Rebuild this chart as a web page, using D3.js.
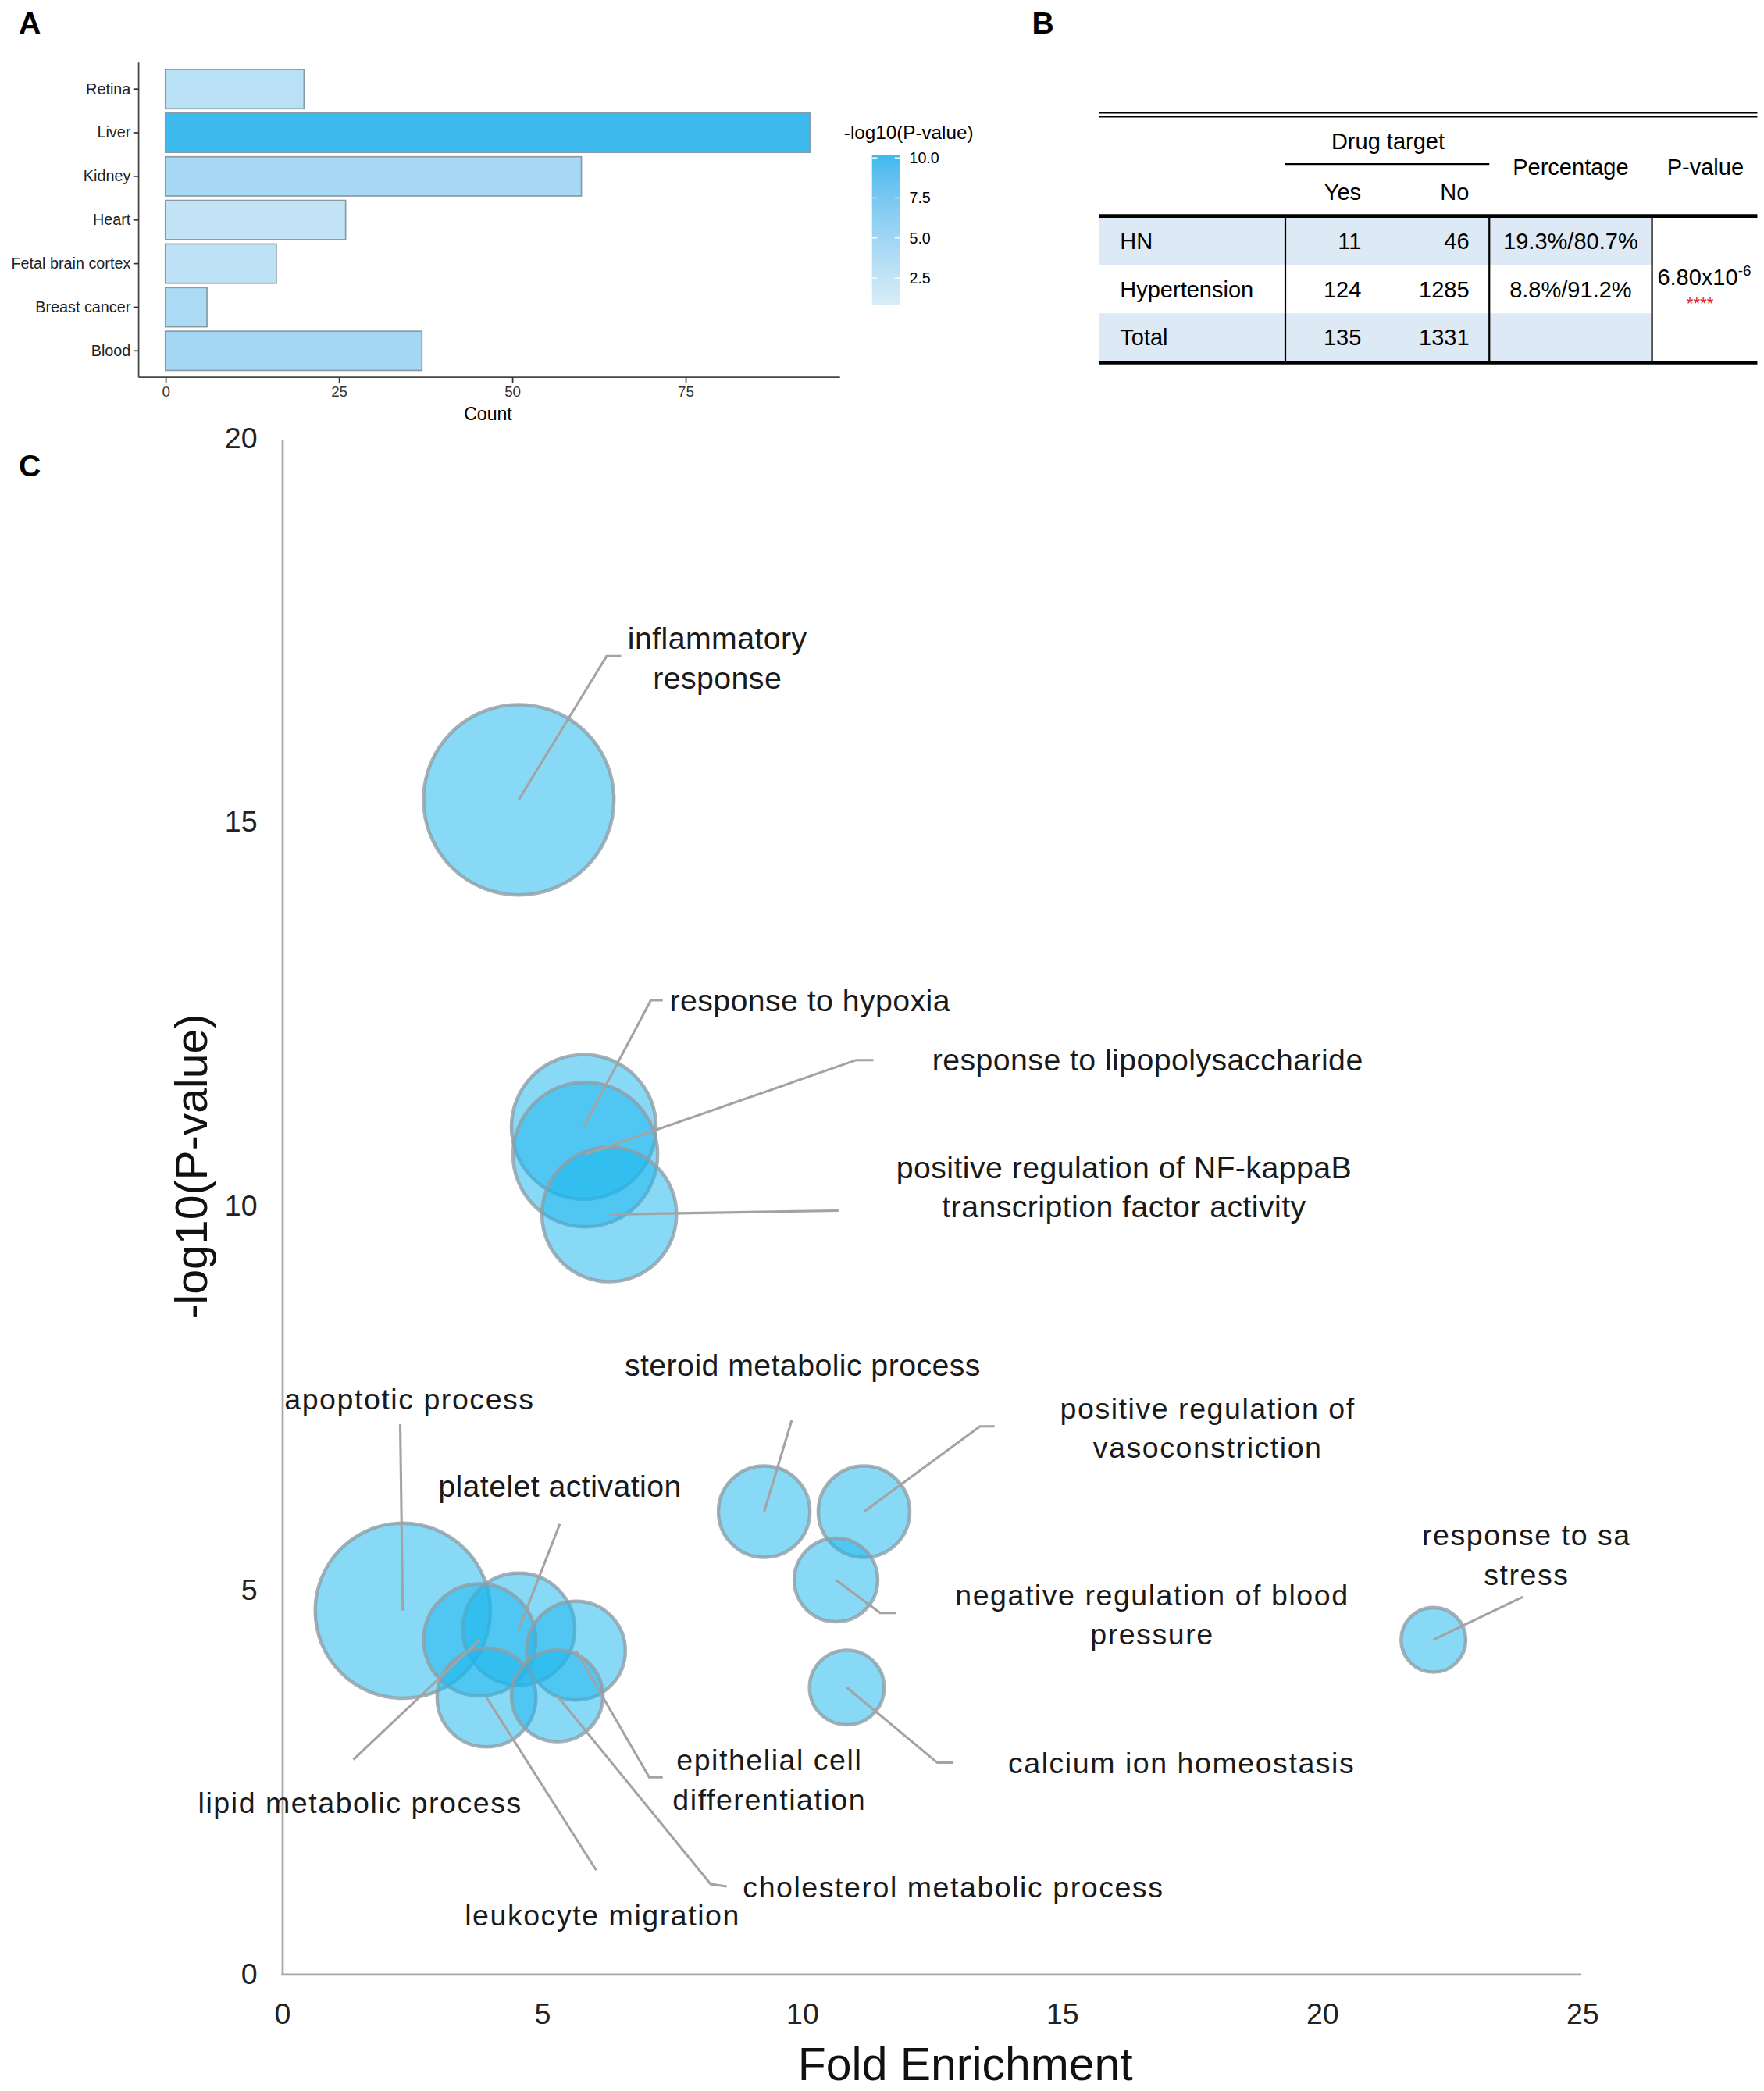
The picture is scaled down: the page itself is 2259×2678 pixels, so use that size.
<!DOCTYPE html>
<html>
<head>
<meta charset="utf-8">
<script src="https://cdn.jsdelivr.net/npm/d3@7"></script>
<style>
  body { margin: 0; background: #fff; }
  svg { display: block; font-family: "Liberation Sans", Arial, sans-serif; }
</style>
</head>
<body>
<svg id="fig" width="2259" height="2678" viewBox="0 0 1323 1568.4"></svg>
<script>
// ---- panel A data
const tissues = ['Retina', 'Liver', 'Kidney', 'Heart', 'Fetal brain cortex', 'Breast cancer', 'Blood'];
const tissueCounts = [20, 93, 60, 26, 16, 6, 37];
const tissueLogP = [3.1, 10.2, 4.4, 2.6, 2.9, 4.3, 4.8];
const countTicks = [0, 25, 50, 75];
const legendTicks = [10, 7.5, 5, 2.5];

// ---- panel B data
const groups = ['HN', 'Hypertension', 'Total'];
const yesCounts = [11, 124, 135];
const noCounts = [46, 1285, 1331];
const percentages = ['19.3%/80.7%', '8.8%/91.2%', ''];

// ---- panel C data
const terms = ['inflammatory response', 'response to hypoxia', 'response to lipopolysaccharide',
  'positive regulation of NF-kappaB transcription factor activity', 'steroid metabolic process',
  'positive regulation of vasoconstriction', 'negative regulation of blood pressure',
  'calcium ion homeostasis', 'response to salt stress', 'apoptotic process', 'platelet activation',
  'lipid metabolic process', 'epithelial cell differentiation', 'leukocyte migration',
  'cholesterol metabolic process'];
const labelLines = [['inflammatory', 'response'], ['response to hypoxia'], ['response to lipopolysaccharide'],
  ['positive regulation of NF-kappaB', 'transcription factor activity'], ['steroid metabolic process'],
  ['positive regulation of', 'vasoconstriction'], ['negative regulation of blood', 'pressure'],
  ['calcium ion homeostasis'], ['response to sa', 'stress'], ['apoptotic process'], ['platelet activation'],
  ['lipid metabolic process'], ['epithelial cell', 'differentiation'], ['leukocyte migration'],
  ['cholesterol metabolic process']];
const foldEnrichment = [4.54, 5.79, 5.82, 6.28, 9.26, 11.18, 10.64, 10.85, 22.13, 2.31, 4.54, 3.79, 5.64, 3.92, 5.28];
const negLog10P = [15.28, 11.02, 10.66, 9.88, 6.01, 6.01, 5.12, 3.72, 4.34, 4.72, 4.48, 4.34, 4.20, 3.59, 3.61];
const geneCounts = [26, 15, 15, 13, 6, 6, 5, 4, 3, 22, 9, 9, 7, 7, 6];
const feTicks = [0, 5, 10, 15, 20, 25];
const pTicks = [0, 5, 10, 15, 20];

// label placement (in data units), kept apart from the values
const labelLayout = [
  { lx: 8.36, ly: 17.38, anchor: 'middle', elbow: [6.23, 17.15], end: [6.51, 17.15] },
  { lx: 7.44, ly: 12.67, anchor: 'start', elbow: [7.08, 12.67], end: [7.31, 12.67] },
  { lx: 12.49, ly: 11.89, anchor: 'start', elbow: [11.03, 11.89], end: [11.36, 11.89] },
  { lx: 16.18, ly: 10.49, anchor: 'middle', elbow: null, end: [10.69, 9.93] },
  { lx: 10.0, ly: 7.92, anchor: 'middle', elbow: null, end: [9.79, 7.2] },
  { lx: 17.79, ly: 7.36, anchor: 'middle', elbow: [13.41, 7.12], end: [13.69, 7.12], spaced: true },
  { lx: 16.72, ly: 4.93, anchor: 'middle', elbow: [11.49, 4.69], end: [11.79, 4.69], spaced: true },
  { lx: 13.95, ly: 2.74, anchor: 'start', elbow: [12.59, 2.74], end: [12.9, 2.74], spaced: true },
  { lx: 23.92, ly: 5.71, anchor: 'middle', elbow: null, end: [23.85, 4.9], spaced: true },
  { lx: 2.44, ly: 7.48, anchor: 'middle', elbow: null, end: [2.26, 7.15], spaced: true },
  { lx: 5.33, ly: 6.34, anchor: 'middle', elbow: null, end: [5.33, 5.85] },
  { lx: 1.49, ly: 2.22, anchor: 'middle', elbow: null, end: [1.36, 2.78], spaced: true },
  { lx: 9.36, ly: 2.78, anchor: 'middle', elbow: [7.05, 2.55], end: [7.31, 2.55], spaced: true },
  { lx: 6.15, ly: 0.76, anchor: 'middle', elbow: null, end: [6.03, 1.34], spaced: true },
  { lx: 8.85, ly: 1.13, anchor: 'start', elbow: [8.23, 1.16], end: [8.54, 1.13], spaced: true }
];

const svg = d3.select('#fig');

// panel letters
svg.selectAll('text.panel')
  .data([['A', 14, 25], ['B', 774, 25], ['C', 14, 357]])
  .enter().append('text')
  .attr('class', 'panel')
  .attr('x', d => d[1]).attr('y', d => d[2])
  .attr('font-size', 23).attr('font-weight', 'bold')
  .text(d => d[0]);

// ================= panel A =================
let drawBars = () => {
  let g = svg.append('g');
  let x = d3.scaleLinear().domain([-3.85, 97.3]).range([104, 630]);
  let y = d3.scaleBand().domain(tissues).range([50.5, 279.5]).paddingInner(0.1).paddingOuter(0.05);
  let color = d3.scaleLinear().domain([0.8, 10.2]).range(['#d9edf7', '#3db9ee']).interpolate(d3.interpolateLab);

  g.selectAll('rect.bar')
    .data(tissues)
    .enter().append('rect')
    .attr('class', 'bar')
    .attr('x', x(0))
    .attr('y', d => y(d))
    .attr('width', (d, i) => x(tissueCounts[i]) - x(0))
    .attr('height', y.bandwidth())
    .attr('fill', (d, i) => color(tissueLogP[i]))
    .attr('stroke', '#8a9aa4').attr('stroke-width', 1);

  let yAxis = g.append('g').attr('transform', 'translate(104,0)')
    .call(d3.axisLeft(y).tickSize(4).tickPadding(2));
  yAxis.select('.domain').attr('d', 'M0,47V283').attr('stroke', '#444');
  yAxis.selectAll('text').attr('font-size', 11.6).attr('fill', '#222').attr('font-family', 'Liberation Sans, Arial');
  yAxis.selectAll('line').attr('stroke', '#333');

  let xAxis = g.append('g').attr('transform', 'translate(0,283)')
    .call(d3.axisBottom(x).tickValues(countTicks).tickSize(4).tickPadding(3));
  xAxis.select('.domain').attr('d', 'M104,0H630').attr('stroke', '#444');
  xAxis.selectAll('text').attr('font-size', 11).attr('fill', '#333').attr('font-family', 'Liberation Sans, Arial');
  xAxis.selectAll('line').attr('stroke', '#333');

  g.append('text').attr('x', 366).attr('y', 315).attr('text-anchor', 'middle')
    .attr('font-size', 13.5).text('Count');

  // colour legend
  let defs = svg.append('defs');
  let grad = defs.append('linearGradient').attr('id', 'lg').attr('x1', 0).attr('x2', 0).attr('y1', 0).attr('y2', 1);
  d3.range(0, 1.01, 0.1).forEach(t => {
    grad.append('stop').attr('offset', t).attr('stop-color', color(10.2 - t * 9.4));
  });
  let ly = d3.scaleLinear().domain([10.2, 0.8]).range([116, 229]);
  g.append('text').attr('x', 633).attr('y', 104).attr('font-size', 14.2).text('-log10(P-value)');
  g.append('rect').attr('x', 654).attr('y', ly(10.2)).attr('width', 21).attr('height', ly(0.8) - ly(10.2))
    .attr('fill', 'url(#lg)');
  legendTicks.forEach(v => {
    g.append('line').attr('x1', 654).attr('x2', 658).attr('y1', ly(v)).attr('y2', ly(v)).attr('stroke', '#fff').attr('stroke-width', 0.8);
    g.append('line').attr('x1', 671).attr('x2', 675).attr('y1', ly(v)).attr('y2', ly(v)).attr('stroke', '#fff').attr('stroke-width', 0.8);
    g.append('text').attr('x', 682).attr('y', ly(v) + 4).attr('font-size', 11.5).text(v.toFixed(1));
  });
};

// ================= panel B =================
let drawTable = () => {
  let g = svg.append('g').attr('font-size', 17);
  let left = 824, right = 1318;
  let row = d3.scaleBand().domain(groups).range([163, 271]);
  let shade = '#dde9f5';

  groups.forEach((grp, i) => {
    if (i % 2 === 0) {
      g.append('rect').attr('x', left).attr('y', row(grp)).attr('width', 1239 - left).attr('height', row.bandwidth())
        .attr('fill', shade);
    }
  });

  g.append('line').attr('x1', left).attr('x2', right).attr('y1', 84.5).attr('y2', 84.5).attr('stroke', '#000').attr('stroke-width', 1.3);
  g.append('line').attr('x1', left).attr('x2', right).attr('y1', 87.5).attr('y2', 87.5).attr('stroke', '#000').attr('stroke-width', 1.3);
  g.append('line').attr('x1', 964).attr('x2', 1117).attr('y1', 123).attr('y2', 123).attr('stroke', '#000').attr('stroke-width', 1.3);
  g.append('line').attr('x1', left).attr('x2', right).attr('y1', 162).attr('y2', 162).attr('stroke', '#000').attr('stroke-width', 2.8);
  g.append('line').attr('x1', left).attr('x2', right).attr('y1', 272).attr('y2', 272).attr('stroke', '#000').attr('stroke-width', 2.8);
  [964, 1117, 1239].forEach(xv => {
    g.append('line').attr('x1', xv).attr('x2', xv).attr('y1', 162).attr('y2', 272).attr('stroke', '#000').attr('stroke-width', 1.3);
  });

  let hdr = [['Drug target', 1041, 112], ['Yes', 1007, 150], ['No', 1091, 150], ['Percentage', 1178, 131], ['P-value', 1279, 131]];
  hdr.forEach(h => {
    g.append('text').attr('x', h[1]).attr('y', h[2]).attr('text-anchor', 'middle').text(h[0]);
  });

  groups.forEach((grp, i) => {
    let cy = row(grp) + row.bandwidth() / 2 + 6;
    g.append('text').attr('x', 840).attr('y', cy).text(grp);
    g.append('text').attr('x', 1021).attr('y', cy).attr('text-anchor', 'end').text(yesCounts[i]);
    g.append('text').attr('x', 1102).attr('y', cy).attr('text-anchor', 'end').text(noCounts[i]);
    g.append('text').attr('x', 1178).attr('y', cy).attr('text-anchor', 'middle').text(percentages[i]);
  });

  let pv = g.append('text').attr('x', 1243).attr('y', 214);
  pv.append('tspan').text('6.80x10');
  pv.append('tspan').attr('font-size', 11).attr('dy', -7).text('-6');
  g.append('text').attr('x', 1275).attr('y', 232).attr('text-anchor', 'middle').attr('font-size', 13)
    .attr('fill', '#e0202a').text('****');
};

// ================= panel C =================
let drawBubbles = () => {
  let g = svg.append('g');
  let x = d3.scaleLinear().domain([0, 25]).range([212, 1187]);
  let y = d3.scaleLinear().domain([0, 20]).range([1480, 328]);
  let r = d3.scaleSqrt().domain([0, 26]).range([0, 71.4]);

  g.append('line').attr('x1', 212).attr('x2', 212).attr('y1', 330).attr('y2', 1481).attr('stroke', '#a8a8a8').attr('stroke-width', 1.6);
  g.append('line').attr('x1', 211).attr('x2', 1186).attr('y1', 1481).attr('y2', 1481).attr('stroke', '#a8a8a8').attr('stroke-width', 1.6);

  g.selectAll('text.ytick').data(pTicks).enter().append('text')
    .attr('x', 193).attr('y', d => y(d) + 8).attr('text-anchor', 'end')
    .attr('font-size', 22).attr('fill', '#222').text(d => d);
  g.selectAll('text.xtick').data(feTicks).enter().append('text')
    .attr('x', d => x(d)).attr('y', 1518).attr('text-anchor', 'middle')
    .attr('font-size', 22).attr('fill', '#222').text(d => d);

  g.append('text').attr('transform', 'translate(155,875) rotate(-90)').attr('text-anchor', 'middle')
    .attr('font-size', 33.5).attr('fill', '#111').text('-log10(P-value)');
  g.append('text').attr('x', 724).attr('y', 1560).attr('text-anchor', 'middle')
    .attr('font-size', 34.5).attr('fill', '#111').text('Fold Enrichment');

  let idx = d3.range(terms.length);
  g.selectAll('circle.term').data(idx).enter().append('circle')
    .attr('class', 'term')
    .attr('cx', i => x(foldEnrichment[i]))
    .attr('cy', i => y(negLog10P[i]))
    .attr('r', i => r(geneCounts[i]))
    .attr('fill', 'rgb(27,183,238)').attr('fill-opacity', 0.52)
    .attr('stroke', '#8f9ea6').attr('stroke-opacity', 0.8).attr('stroke-width', 2.6);

  let line = d3.line();
  g.selectAll('path.leader').data(idx).enter().append('path')
    .attr('class', 'leader')
    .attr('d', i => {
      let L = labelLayout[i];
      let pts = [[x(foldEnrichment[i]), y(negLog10P[i])]];
      if (L.elbow) pts.push([x(L.elbow[0]), y(L.elbow[1])]);
      pts.push([x(L.end[0]), y(L.end[1])]);
      return line(pts);
    })
    .attr('fill', 'none').attr('stroke', '#a3a3a3').attr('stroke-width', 1.8);

  idx.forEach(i => {
    let L = labelLayout[i];
    let t = g.append('text')
      .attr('text-anchor', L.anchor)
      .attr('font-size', L.spaced ? 22 : 23)
      .attr('fill', '#1a1a1a')
      .attr('letter-spacing', L.spaced ? 0.9 : 0.25);
    labelLines[i].forEach((s, k) => {
      t.append('tspan').attr('x', x(L.lx)).attr('y', y(L.ly) + 8 + k * 29.5).text(s);
    });
  });
};

drawBars();
drawTable();
drawBubbles();
</script>
</body>
</html>
